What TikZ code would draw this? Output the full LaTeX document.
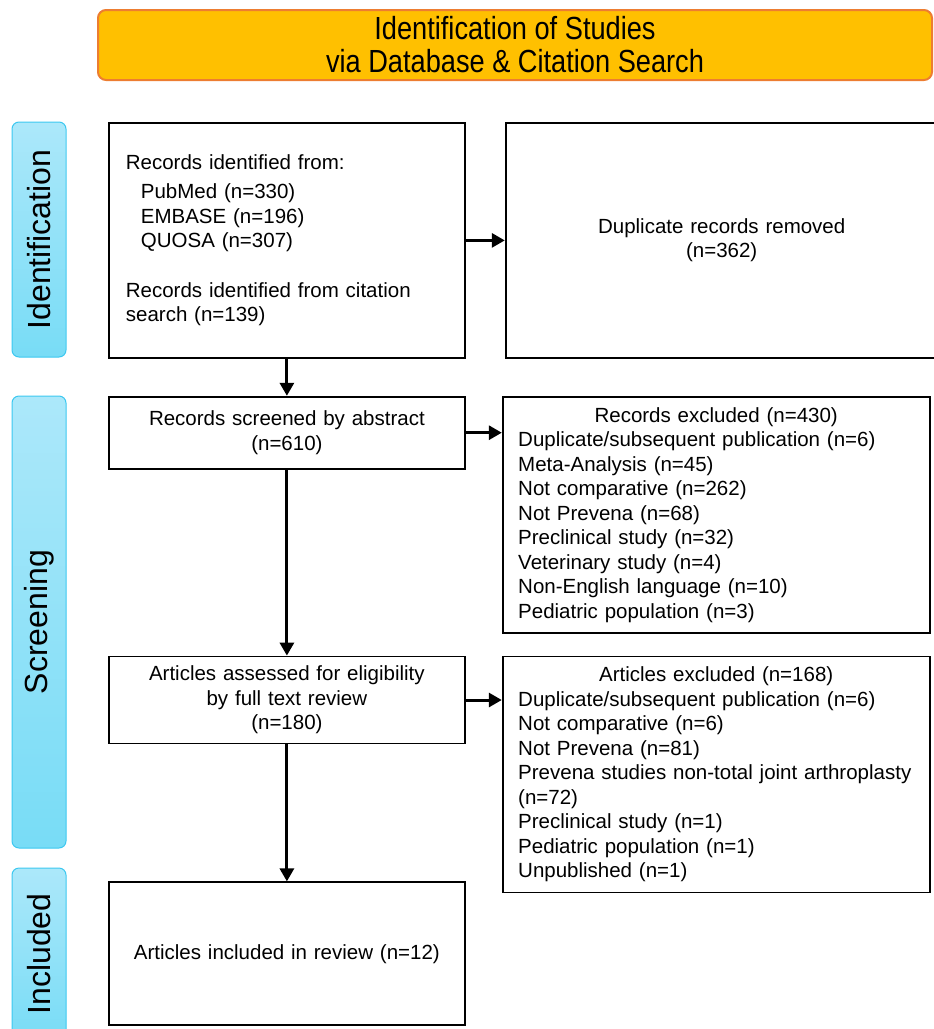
\documentclass[tikz,border=0pt]{standalone}
\usepackage{fontspec}
\setmainfont{Liberation Sans}
\newfontfamily\bannerfont[FakeStretch=0.85]{Liberation Sans}
\usepackage{tikz}
\usetikzlibrary{arrows.meta,positioning}
\definecolor{bannerfill}{RGB}{255,192,0}
\definecolor{bannerline}{RGB}{237,125,49}
\definecolor{sideleft}{RGB}{172,232,250}
\definecolor{sideright}{RGB}{120,220,246}
\definecolor{sideline}{RGB}{60,200,240}

\begin{document}
\begin{tikzpicture}[
    x=1pt, y=-1pt,
    box/.style={rectangle, draw, line width=1.8pt, fill=white, inner xsep=17pt, inner ysep=0pt, text width=322pt, font=\fontsize{20.5}{24.5}\selectfont},
    widebox/.style={box, inner xsep=15.5pt, text width=396pt},
    side/.style={rectangle, rounded corners=7pt, draw=sideline, line width=1pt, top color=sideleft, bottom color=sideright, rotate=90, minimum height=54pt, inner sep=0pt, font=\fontsize{32}{32}\selectfont},
    arrow/.style={-{Triangle[length=13pt,width=14pt]}, line width=3pt}
]
    \clip (0,0) rectangle (934,1029);

    \node[rectangle, rounded corners=8pt, draw=bannerline, line width=2pt, fill=bannerfill, minimum width=834pt, minimum height=70pt, align=center, font=\bannerfont\fontsize{32}{33}\selectfont] (banner) at (515,45) {Identification of Studies\\via Database \& Citation Search};

    % phase bars
    \node[side, minimum width=235pt] (sideid) at (39,239.5) {Identification};
    \node[side, minimum width=452pt] (sidescr) at (39,622) {Screening};
    \node[side, minimum width=172pt] (sideinc) at (39,954) {Included};

    % left column
    \node[box, align=left, minimum height=235pt, anchor=north west] (rec) at (108,122) {Records identified from:\\[4.5pt]
        \hspace*{15pt}PubMed (n=330)\\
        \hspace*{15pt}EMBASE (n=196)\\
        \hspace*{15pt}QUOSA (n=307)\\[25pt]
        Records identified from citation\\ search (n=139)};
    \node[box, align=center, minimum height=72pt, below=37pt of rec] (scr) {Records screened by abstract\\(n=610)};
    \node[box, align=center, minimum height=87pt, below=186pt of scr] (elig) {Articles assessed for eligibility\\by full text review\\(n=180)};
    \node[box, align=center, minimum height=143pt, below=137pt of elig] (incl) {Articles included in review (n=12)};

    % right column
    \node[box, align=center, text width=398pt, minimum height=235pt, right=39pt of rec] (dup) {Duplicate records removed\\(n=362)};
    \node[widebox, align=left, minimum height=236pt, right=36pt of scr.north east, anchor=north west] (exc1) {\makebox[396pt]{Records excluded (n=430)}\\
        Duplicate/subsequent publication (n=6)\\
        Meta-Analysis (n=45)\\
        Not comparative (n=262)\\
        Not Prevena (n=68)\\
        Preclinical study (n=32)\\
        Veterinary study (n=4)\\
        Non-English language (n=10)\\
        Pediatric population (n=3)};
    \node[widebox, align=left, minimum height=236pt, right=36pt of elig.north east, anchor=north west] (exc2) {\makebox[396pt]{Articles excluded (n=168)}\\
        Duplicate/subsequent publication (n=6)\\
        Not comparative (n=6)\\
        Not Prevena (n=81)\\
        Prevena studies non-total joint arthroplasty\\
        (n=72)\\
        Preclinical study (n=1)\\
        Pediatric population (n=1)\\
        Unpublished (n=1)};

    \draw[arrow] (rec) -- (dup);
    \draw[arrow] (rec) -- (scr);
    \draw[arrow] (scr) -- (elig);
    \draw[arrow] (elig) -- (incl);
    \draw[arrow] (scr.east) -- (scr.east -| exc1.west);
    \draw[arrow] (elig.east) -- (elig.east -| exc2.west);
\end{tikzpicture}
\end{document}
